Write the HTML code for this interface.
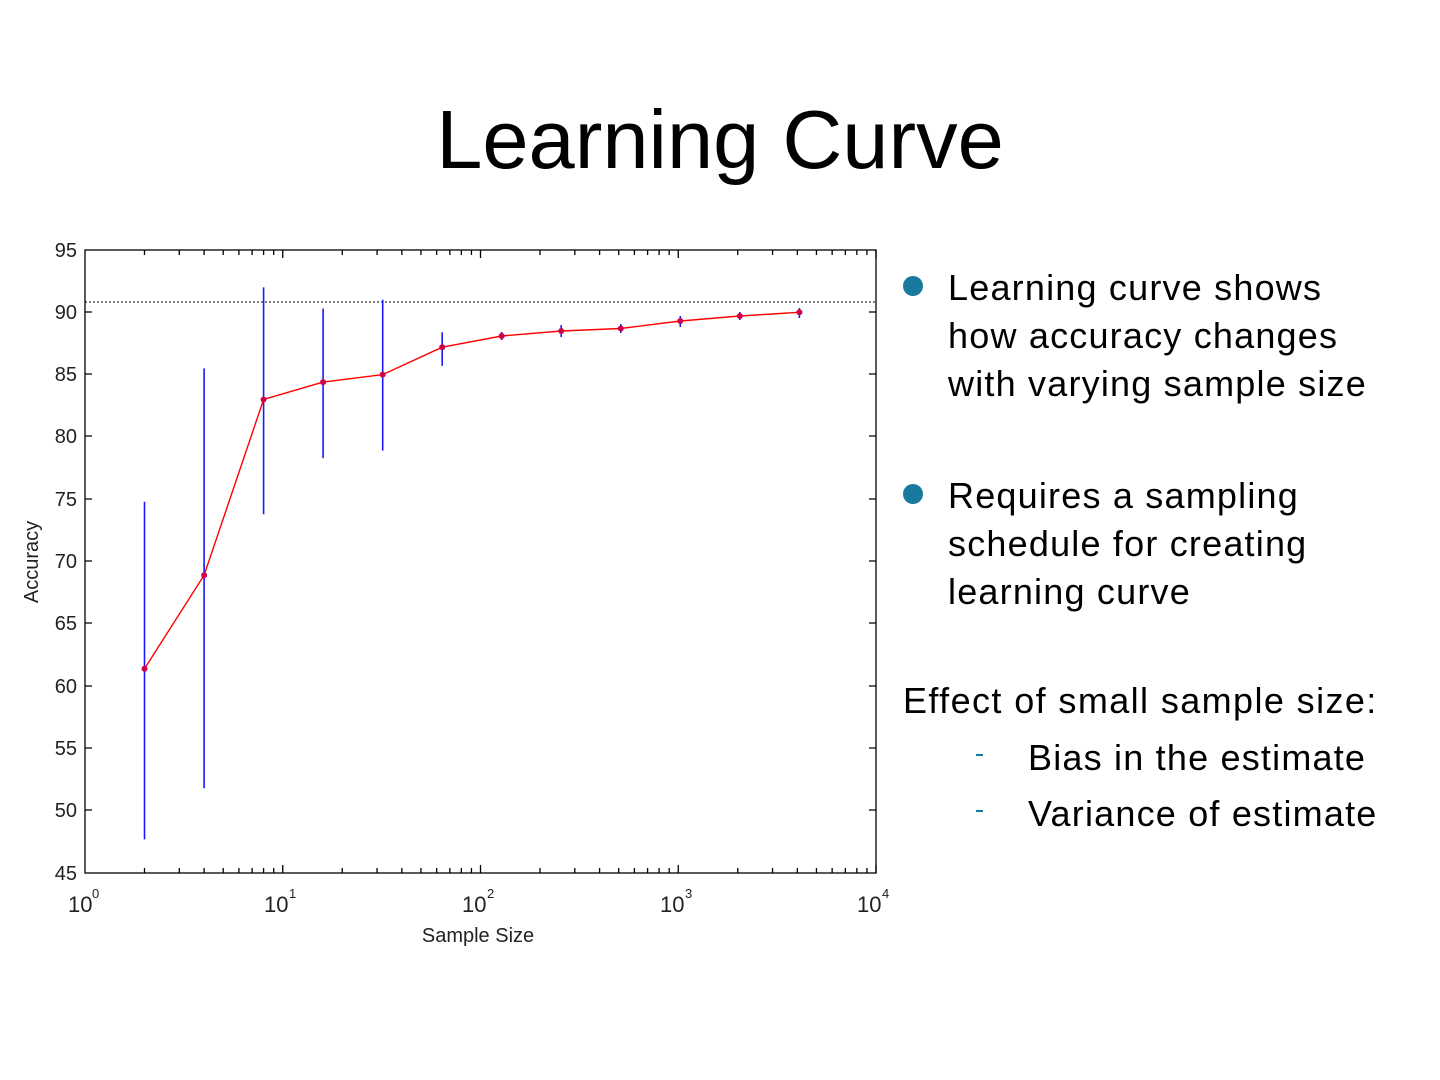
<!DOCTYPE html>
<html><head><meta charset="utf-8"><style>
body{margin:0;width:1440px;height:1080px;background:#fff;overflow:hidden;position:relative;font-family:"Liberation Sans",sans-serif}
.t{position:absolute;white-space:nowrap;color:#000}
</style></head><body>
<div class="t" style="left:0;width:1440px;text-align:center;top:92px;font-size:83px;">Learning Curve</div>
<div style="position:absolute;left:903px;top:276px;width:20px;height:20px;border-radius:50%;background:#17799e"></div>
<div style="position:absolute;left:903px;top:484px;width:20px;height:20px;border-radius:50%;background:#17799e"></div>
<div class="t" style="left:948px;top:264px;font-size:36px;line-height:48px;letter-spacing:1.2px">Learning curve shows<br>how accuracy changes<br>with varying sample size</div>
<div class="t" style="left:948px;top:472px;font-size:36px;line-height:48px;letter-spacing:1.2px">Requires a sampling<br>schedule for creating<br>learning curve</div>
<div class="t" style="left:903px;top:680px;font-size:36px;letter-spacing:1.4px">Effect of small sample size:</div>
<div style="position:absolute;left:976px;top:754px;width:7px;height:2px;background:#17799e"></div>
<div style="position:absolute;left:976px;top:810px;width:7px;height:2px;background:#17799e"></div>
<div class="t" style="left:1028px;top:737px;font-size:36px;letter-spacing:1.2px">Bias in the estimate</div>
<div class="t" style="left:1028px;top:793px;font-size:36px;letter-spacing:1.2px">Variance of estimate</div>
<svg width="1440" height="1080" style="position:absolute;left:0;top:0" font-family="Liberation Sans, sans-serif">
<g stroke="#000" stroke-width="1.3" fill="none">
<rect x="85" y="250" width="791" height="623"/>
<path d="M85 312h7M85 374h7M85 436h7M85 499h7M85 561h7M85 623h7M85 686h7M85 748h7M85 810h7M876 312h-7M876 374h-7M876 436h-7M876 499h-7M876 561h-7M876 623h-7M876 686h-7M876 748h-7M876 810h-7"/>
<path id="mt" d="M144.5 873v-5M179.3 873v-5M204.1 873v-5M223.2 873v-5M238.9 873v-5M252.1 873v-5M263.6 873v-5M273.7 873v-5M282.75 873v-8M144.5 250v5M179.3 250v5M204.1 250v5M223.2 250v5M238.9 250v5M252.1 250v5M263.6 250v5M273.7 250v5M282.75 250v8"/>
<use href="#mt" x="197.75"/><use href="#mt" x="395.5"/><use href="#mt" x="593.25"/>
</g>
<line x1="85" y1="302" x2="876" y2="302" stroke="#000" stroke-width="1" stroke-dasharray="2,2"/>
<g stroke="#1a1aff" stroke-width="1.6">
<path d="M144.5 839.4V501.7M204.1 788.3V368.4M263.6 514.2V287.4M323.1 458.1V308.6M382.7 450.6V299.8M442.2 365.9V332.2M501.7 340V332M561.2 337V325M620.8 333V324M680.3 327V316M739.8 320V312M799.4 318V308"/>
</g>
<polyline fill="none" stroke="#ff0000" stroke-width="1.4" points="144.5,668.7 204.1,575.2 263.6,399.5 323.1,382.1 382.7,374.6 442.2,347.2 501.7,336 561.2,331 620.8,328.5 680.3,321 739.8,316 799.4,312.3"/>
<g fill="#d0004a">
<circle cx="144.5" cy="668.7" r="3"/><circle cx="204.1" cy="575.2" r="3"/><circle cx="263.6" cy="399.5" r="3"/><circle cx="323.1" cy="382.1" r="3"/><circle cx="382.7" cy="374.6" r="3"/><circle cx="442.2" cy="347.2" r="3"/><circle cx="501.7" cy="336" r="3"/><circle cx="561.2" cy="331" r="3"/><circle cx="620.8" cy="328.5" r="3"/><circle cx="680.3" cy="321" r="3"/><circle cx="739.8" cy="316" r="3"/><circle cx="799.4" cy="312.3" r="3"/>
</g>
<g font-size="20" fill="#222" text-anchor="end">
<text x="77" y="257">95</text><text x="77" y="319">90</text><text x="77" y="381">85</text><text x="77" y="443">80</text><text x="77" y="506">75</text><text x="77" y="568">70</text><text x="77" y="630">65</text><text x="77" y="693">60</text><text x="77" y="755">55</text><text x="77" y="817">50</text><text x="77" y="880">45</text>
</g>
<g font-size="22" fill="#222">
<text x="68" y="912">10</text><text x="92" y="898" font-size="13">0</text>
<text x="264" y="912">10</text><text x="289" y="898" font-size="13">1</text>
<text x="462" y="912">10</text><text x="487" y="898" font-size="13">2</text>
<text x="660" y="912">10</text><text x="685" y="898" font-size="13">3</text>
<text x="857" y="912">10</text><text x="882" y="898" font-size="13">4</text>
</g>
<text x="478" y="942" font-size="20" fill="#222" text-anchor="middle">Sample Size</text>
<text transform="translate(38,562) rotate(-90)" font-size="20" fill="#222" text-anchor="middle">Accuracy</text>
</svg>
</body></html>
